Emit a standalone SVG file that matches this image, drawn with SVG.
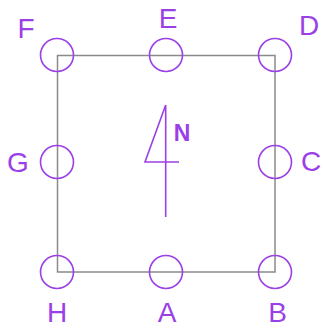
<svg xmlns="http://www.w3.org/2000/svg" width="323" height="329" viewBox="0 0 323 329">
<style>
.c{fill:none;stroke:#9b3fe6;stroke-width:1.6}
.t{font-family:"Liberation Sans",Arial,sans-serif;font-size:28px;fill:#9b3fe6;text-anchor:middle}
.w{fill:none;stroke:#8a8a8a;stroke-width:1.5}
</style>
<rect width="323" height="329" fill="#fff"/>
<g id="connectors">
<rect class="w" x="57.5" y="55.5" width="217.5" height="216.5"/>
</g>
<g id="F"><circle class="c" cx="57" cy="55" r="16.5"/><text class="t" x="26" y="38">F</text></g>
<g id="E"><circle class="c" cx="166" cy="55" r="16.5"/><text class="t" x="168" y="28">E</text></g>
<g id="D"><circle class="c" cx="275" cy="55" r="16.5"/><text class="t" x="309" y="35">D</text></g>
<g id="G"><circle class="c" cx="57" cy="162" r="16.5"/><text class="t" x="18" y="172">G</text></g>
<g id="C"><circle class="c" cx="275" cy="162" r="16.5"/><text class="t" x="311" y="171">C</text></g>
<g id="H"><circle class="c" cx="57" cy="272" r="16.5"/><text class="t" x="57" y="321.5">H</text></g>
<g id="A"><circle class="c" cx="166" cy="272" r="16.5"/><text class="t" x="167" y="321.5">A</text></g>
<g id="B"><circle class="c" cx="275" cy="272" r="16.5"/><text class="t" x="277.5" y="321.5">B</text></g>
<g id="north">
<path class="c" d="M165.7 105 V217 M165.7 105 L145 162 H179"/>
<text class="t" x="182" y="141" style="font-size:23px;font-weight:bold">N</text>
</g>
</svg>
